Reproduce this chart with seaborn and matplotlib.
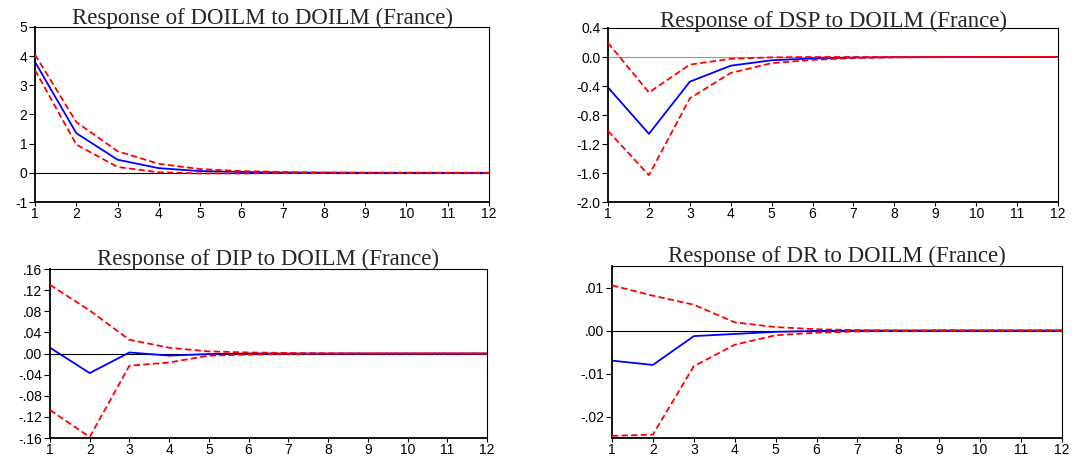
import matplotlib
matplotlib.use("Agg")
import matplotlib.pyplot as plt
import seaborn as sns
import pandas as pd
import numpy as np

sns.set_theme(style="white")
plt.rcParams['font.family'] = ['Liberation Sans', 'DejaVu Sans']

periods = list(range(1, 13))

# Panel 1: DOILM -> DOILM
doilm_resp = [3.80, 1.36, 0.45, 0.16, 0.06, 0.03, 0.01, 0.005, 0.002, 0.001, 0.0, 0.0]
doilm_up   = [4.05, 1.74, 0.74, 0.31, 0.13, 0.06, 0.03, 0.01, 0.005, 0.002, 0.001, 0.0]
doilm_lo   = [3.52, 0.97, 0.20, 0.02, -0.02, -0.02, -0.01, -0.005, -0.002, -0.001, 0.0, 0.0]

# Panel 2: DSP -> DOILM
dsp_resp = [-0.42, -1.06, -0.34, -0.12, -0.045, -0.02, -0.008, -0.003, -0.001, 0.0, 0.0, 0.0]
dsp_up   = [0.195, -0.49, -0.105, -0.025, -0.005, 0.0, 0.0, 0.0, 0.0, 0.0, 0.0, 0.0]
dsp_lo   = [-1.02, -1.63, -0.57, -0.22, -0.085, -0.04, -0.015, -0.005, -0.002, -0.001, 0.0, 0.0]

# Panel 3: DIP -> DOILM
dip_resp = [0.011, -0.037, 0.002, -0.004, -0.001, 0.0, 0.0, 0.0, 0.0, 0.0, 0.0, 0.0]
dip_up   = [0.130, 0.0815, 0.026, 0.011, 0.004, 0.002, 0.001, 0.0005, 0.0, 0.0, 0.0, 0.0]
dip_lo   = [-0.107, -0.158, -0.023, -0.017, -0.004, -0.002, -0.001, -0.0005, 0.0, 0.0, 0.0, 0.0]

# Panel 4: DR -> DOILM
dr_resp = [-0.0070, -0.0080, -0.0013, -0.0008, -0.0003, -0.0001, 0.0, 0.0, 0.0, 0.0, 0.0, 0.0]
dr_up   = [0.0105, 0.0081, 0.0060, 0.0019, 0.0008, 0.0003, 0.0001, 0.0, 0.0, 0.0, 0.0, 0.0]
dr_lo   = [-0.0245, -0.0242, -0.0083, -0.0033, -0.0011, -0.0005, -0.0002, -0.0001, 0.0, 0.0, 0.0, 0.0]

titles = ["Response of DOILM to DOILM (France)",
          "Response of DSP to DOILM (France)",
          "Response of DIP to DOILM (France)",
          "Response of DR to DOILM (France)"]

yticks_1 = [-1, 0, 1, 2, 3, 4, 5]
ylabels_1 = ["-1", "0", "1", "2", "3", "4", "5"]
yticks_2 = [-2.0, -1.6, -1.2, -0.8, -0.4, 0.0, 0.4]
ylabels_2 = ["-2.0", "-1.6", "-1.2", "-0.8", "-0.4", "0.0", "0.4"]
yticks_3 = [-0.16, -0.12, -0.08, -0.04, 0.0, 0.04, 0.08, 0.12, 0.16]
ylabels_3 = ["-.16", "-.12", "-.08", "-.04", ".00", ".04", ".08", ".12", ".16"]
yticks_4 = [-0.02, -0.01, 0.0, 0.01]
ylabels_4 = ["-.02", "-.01", ".00", ".01"]

panels = [
    (doilm_resp, doilm_up, doilm_lo, (-1, 5), yticks_1, ylabels_1, [0.0326, 0.5599, 0.4223, 0.3813], "black", 2),
    (dsp_resp, dsp_up, dsp_lo, (-2.0, 0.4), yticks_2, ylabels_2, [0.5656, 0.5599, 0.4186, 0.3791], "#999999", 1),
    (dip_resp, dip_up, dip_lo, (-0.16, 0.16), yticks_3, ylabels_3, [0.0465, 0.0457, 0.4065, 0.3682], "black", 3),
    (dr_resp, dr_up, dr_lo, (-0.025, 0.015), yticks_4, ylabels_4, [0.5693, 0.0457, 0.4186, 0.3747], "black", 3),
]

fig = plt.figure(figsize=(10.75, 4.59), dpi=100)
fig.patch.set_facecolor("white")

for (resp, up, lo, ylim, yt, yl, pos, zcol, tpad), title in zip(panels, titles):
    ax = fig.add_axes(pos)
    ax.axhline(0, color=zcol, lw=0.8, zorder=1)
    df = pd.DataFrame({"period": periods * 3,
                       "value": resp + up + lo,
                       "band": ["resp"] * 12 + ["up"] * 12 + ["lo"] * 12})
    sns.lineplot(data=df[df.band == "resp"], x="period", y="value", ax=ax,
                 color="#0000ff", lw=1.3, zorder=2)
    for b in ["up", "lo"]:
        sns.lineplot(data=df[df.band == b], x="period", y="value", ax=ax,
                     color="#ff0000", lw=1.3, linestyle=(0, (3.5, 1.8)), zorder=3)
    ax.set_xlim(1, 12)
    ax.set_ylim(*ylim)
    ax.set_xticks(periods)
    ax.set_xticklabels([str(p) for p in periods])
    ax.set_yticks(yt)
    ax.set_yticklabels(yl)
    ax.set_xlabel("")
    ax.set_ylabel("")
    ax.tick_params(axis="both", direction="out", length=4, width=0.8,
                   labelsize=10, pad=1.5, colors="black", bottom=True, left=True)
    ax.tick_params(axis="x", pad=0.5, length=3)
    for side in ["left", "bottom"]:
        ax.spines[side].set_color("black")
        ax.spines[side].set_linewidth(1.3)
    for side in ["top", "right"]:
        ax.spines[side].set_color("black")
        ax.spines[side].set_linewidth(0.8)
    ax.set_title(title, family=["Liberation Serif"], fontsize=16.5, pad=tpad)
    ax.grid(False)

fig.savefig("out.png", dpi=100, facecolor="white")
